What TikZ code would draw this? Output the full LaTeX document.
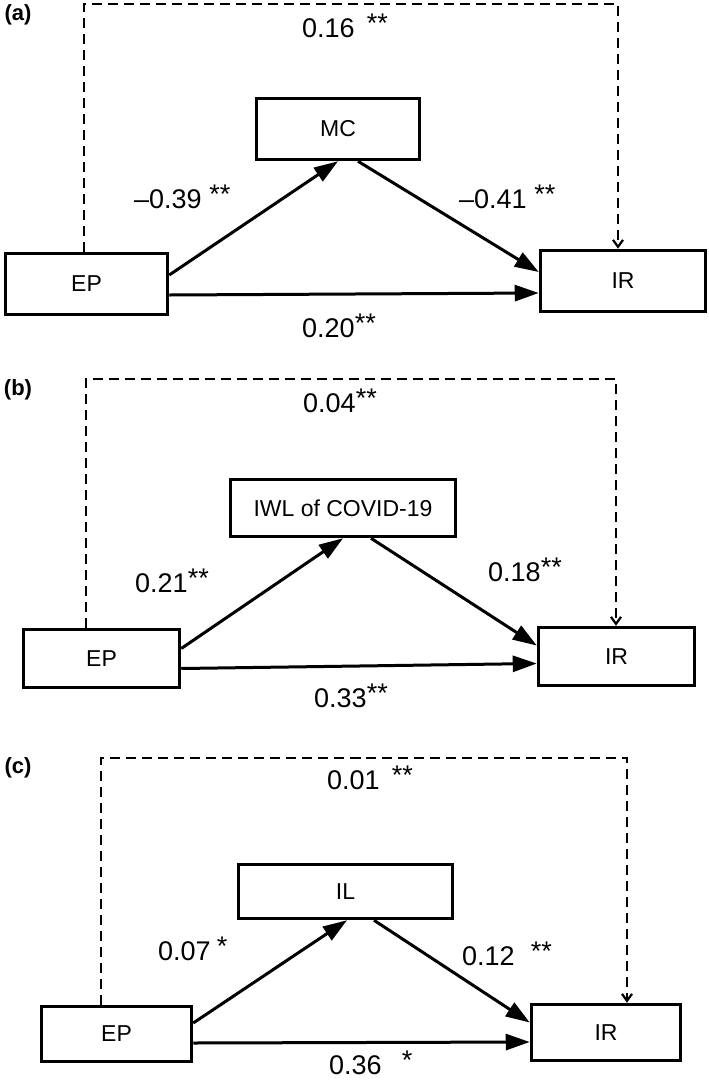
\documentclass[tikz,border=0pt]{standalone}
\usepackage{fontspec}
\setmainfont{Liberation Sans}
\usetikzlibrary{arrows.meta}

\newcommand{\sig}[1]{\raisebox{5pt}{#1}}

\tikzset{
  var/.style={draw=black, line width=3.5pt, minimum width=#1, inner sep=0pt,
    font=\fontsize{23}{23}\selectfont},
  coef/.style={font=\fontsize{27}{27}\selectfont, inner sep=0pt, anchor=base west},
  panel/.style={font=\bfseries\fontsize{22}{22}\selectfont, inner sep=0pt},
  effect/.style={-{Triangle[length=24pt,width=16pt]}, line width=3pt},
  direct/.style={dash pattern=on 10pt off 6pt, line width=2.2pt,
    -{Straight Barb[length=7pt,width=10pt]}}
}

\begin{document}
\begin{tikzpicture}[x=1pt, y=-1pt]
\useasboundingbox (0,0) rectangle (709,1080);
% (a)
\node[panel] (taga) at (18,15) {(a)};
\node[var=162pt, minimum height=61pt] (EPa) at (86.5,284) {EP};
\node[var=163pt, minimum height=61pt] (MCa) at (338,129) {MC};
\node[var=165pt, minimum height=61pt] (IRa) at (623,281) {IR};
\coordinate (topa) at (350,4);
\path [direct, draw=black] ([xshift=-2.5pt]EPa.north) |- (topa) -| ([xshift=-5pt]IRa.north);
\path ([yshift=9pt]EPa.east) edge[effect] (MCa.south);
\path ([xshift=20pt]MCa.south) edge[effect] ([yshift=9pt]IRa.west);
\path ([yshift=-11pt]EPa.east) edge[effect] ([yshift=-12pt]IRa.west);
\node[coef] (da) at (302,37) {0.16\hspace{12pt}\sig{**}};
\node[coef] (aa) at (134,208) {–0.39 \sig{**}};
\node[coef] (ba) at (459,208) {–0.41 \sig{**}};
\node[coef] (ca) at (302,337) {0.20\sig{**}};
% (b)
\node[panel] (tagb) at (18,390) {(b)};
\node[var=156pt, minimum height=58pt] (EPb) at (101.5,658.5) {EP};
\node[var=225pt, minimum height=57pt] (IWLb) at (343,508) {IWL of COVID-19};
\node[var=156pt, minimum height=58pt] (IRb) at (616.5,656.5) {IR};
\coordinate (topb) at (350,379);
\path [direct, draw=black] ([xshift=-15.5pt]EPb.north) |- (topb) -| ([xshift=-0.5pt]IRb.north);
\path ([yshift=10pt]EPb.east) edge[effect] (IWLb.south);
\path ([xshift=28pt]IWLb.south) edge[effect] ([yshift=11pt]IRb.west);
\path ([yshift=-10pt]EPb.east) edge[effect] ([yshift=-7pt]IRb.west);
\node[coef] (db) at (303,412) {0.04\sig{**}};
\node[coef] (ab) at (135,592) {0.21\sig{**}};
\node[coef] (bb) at (488,581) {0.18\sig{**}};
\node[coef] (cb) at (314,707) {0.33\sig{**}};
% (c)
\node[panel] (tagc) at (18,768) {(c)};
\node[var=150pt, minimum height=55pt] (EPc) at (116.5,1034) {EP};
\node[var=214pt, minimum height=54pt] (ILc) at (345.5,891.5) {IL};
\node[var=149pt, minimum height=56pt] (IRc) at (606,1032.5) {IR};
\coordinate (topc) at (360,758);
\path [direct, draw=black] ([xshift=-15.5pt]EPc.north) |- (topc) -| ([xshift=21pt]IRc.north);
\path ([yshift=11pt]EPc.east) edge[effect] ([xshift=1.5pt]ILc.south);
\path ([xshift=28.5pt]ILc.south) edge[effect] ([yshift=10pt]IRc.west);
\path ([yshift=-9pt]EPc.east) edge[effect] ([yshift=-9.5pt]IRc.west);
\node[coef] (dc) at (327,789) {0.01\hspace{12pt}\sig{**}};
\node[coef] (ac) at (158,960) {0.07\hspace{6pt}\sig{*}};
\node[coef] (bc) at (462,965) {0.12\hspace{16pt}\sig{**}};
\node[coef] (cc) at (329,1074) {0.36\hspace{20pt}\sig{*}};
\end{tikzpicture}
\end{document}
